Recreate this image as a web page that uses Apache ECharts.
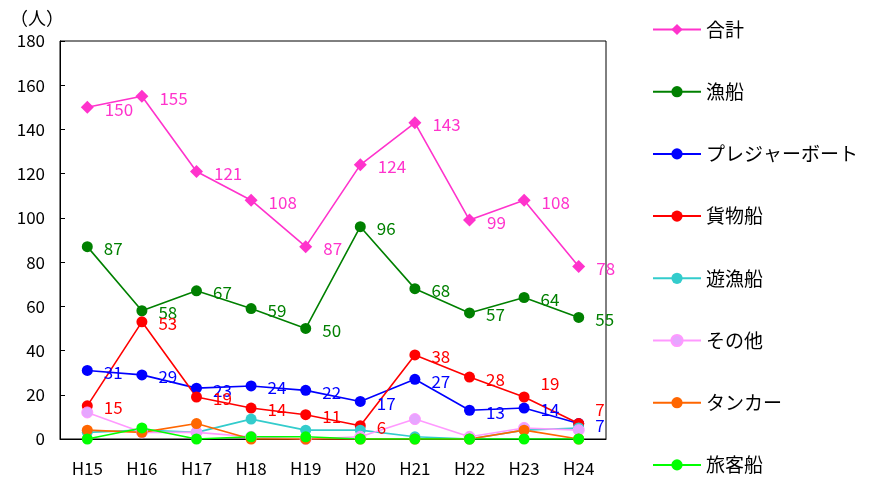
<!DOCTYPE html>
<html>
<head>
<meta charset="utf-8">
<script src="https://cdn.jsdelivr.net/npm/echarts@6/dist/echarts.min.js"></script>
<style>
  html, body { margin: 0; padding: 0; background: #fff; }
  #chart { width: 881px; height: 477px; }
</style>
</head>
<body>
<div id="chart"></div>
<script>
// 年度
const years = ['H15', 'H16', 'H17', 'H18', 'H19', 'H20', 'H21', 'H22', 'H23', 'H24'];

// 船種別の人数（人）
const total    = [150, 155, 121, 108, 87, 124, 143, 99, 108, 78];
const fishing  = [87, 58, 67, 59, 50, 96, 68, 57, 64, 55];
const pleasure = [31, 29, 23, 24, 22, 17, 27, 13, 14, 7];
const cargo    = [15, 53, 19, 14, 11, 6, 38, 28, 19, 7];
const angling  = [3, 4, 3, 9, 4, 4, 1, 0, 4, 5];
const others   = [12, 3, 3, 1, 0, 1, 9, 1, 5, 4];
const tanker   = [4, 3, 7, 0, 0, 0, 0, 0, 4, 0];
const ferry    = [0, 5, 0, 1, 1, 0, 0, 0, 0, 0];

// 目盛り
const yMin = 0, yMax = 180, yStep = 20;

const FONT = '"Noto Sans CJK JP", "Noto Sans", sans-serif';

// 重なりを避けるため一部ラベルを上にずらす
const labelShift = { '貨物船': { 8: [0, -13], 9: [0, -14] } };

function makeSeries(name, values, color, opts) {
  opts = opts || {};
  const shift = labelShift[name] || {};
  const data = values.map((v, i) => shift[i]
    ? { value: v, label: { offset: shift[i] } }
    : v);
  return {
    name: name,
    type: 'line',
    data: data,
    symbol: opts.symbol || 'circle',
    symbolSize: opts.symbolSize || 11,
    lineStyle: { color: color, width: 1.6 },
    itemStyle: { color: opts.fill || color, borderColor: color, borderWidth: opts.fill ? 1 : 0 },
    label: {
      show: !!opts.label,
      position: 'right',
      distance: 11,
      offset: [0, 2],
      color: color,
      fontSize: 17,
      fontFamily: FONT
    },
    emphasis: { disabled: true },
    animation: false
  };
}

const chart = echarts.init(document.getElementById('chart'), null, { renderer: 'canvas' });

chart.setOption({
  backgroundColor: '#fff',
  animation: false,
  textStyle: { fontFamily: FONT },
  graphic: [{
    type: 'text',
    left: 10,
    top: 9,
    style: { text: '（人）', fontSize: 18, fontFamily: FONT, fill: '#000' }
  }],
  grid: {
    left: 60, top: 41, width: 546, height: 398,
    show: true, borderColor: '#000', borderWidth: 1, backgroundColor: 'transparent'
  },
  legend: {
    orient: 'vertical',
    left: 652,
    top: 20,
    padding: 0,
    itemWidth: 48,
    itemHeight: 14,
    itemGap: 43.2,
    textStyle: { fontSize: 19, fontFamily: FONT, color: '#000' },
    data: ['合計', '漁船', 'プレジャーボート', '貨物船', '遊漁船', 'その他', 'タンカー', '旅客船']
  },
  xAxis: {
    type: 'category',
    data: years,
    boundaryGap: true,
    axisLine: { lineStyle: { color: '#000', width: 1 } },
    axisTick: { inside: true, length: 5, lineStyle: { color: '#000' } },
    axisLabel: { color: '#000', fontSize: 17, fontFamily: FONT, margin: 21 },
    splitLine: { show: false }
  },
  yAxis: {
    type: 'value',
    min: yMin, max: yMax, interval: yStep,
    axisLine: { show: true, lineStyle: { color: '#000', width: 1 } },
    axisTick: { show: true, inside: true, length: 5, lineStyle: { color: '#000' } },
    axisLabel: { color: '#000', fontSize: 17, fontFamily: FONT, margin: 15 },
    splitLine: { show: false }
  },
  series: [
    makeSeries('合計', total, '#FF33CC', { label: true, symbol: 'diamond', symbolSize: 13 }),
    makeSeries('漁船', fishing, '#008000', { label: true }),
    makeSeries('プレジャーボート', pleasure, '#0000FF', { label: true }),
    makeSeries('貨物船', cargo, '#FF0000', { label: true }),
    makeSeries('遊漁船', angling, '#33CCCC'),
    makeSeries('その他', others, '#FF99FF', { fill: '#E6A6FF' }),
    makeSeries('タンカー', tanker, '#FF6600'),
    makeSeries('旅客船', ferry, '#00FF00')
  ]
});
</script>
</body>
</html>
